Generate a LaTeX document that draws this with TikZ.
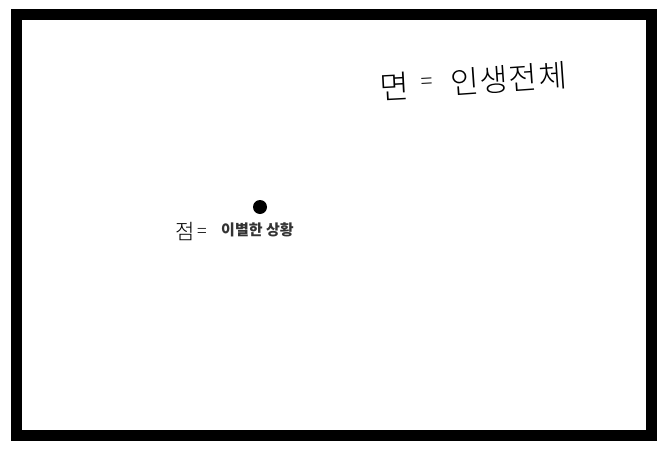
\documentclass[tikz,border=0pt]{standalone}
\usepackage{fontspec}
\newfontfamily\kr{Noto Sans CJK KR}
\newfontfamily\krlight{Noto Sans CJK KR Light}
\definecolor{txtgray}{HTML}{333333}
\begin{document}
\begin{tikzpicture}[x=1pt,y=-1pt,
  frame/.style={draw=black,line width=11pt},
  hand/.style={font=\krlight,inner sep=0pt,anchor=west},
  bold/.style={font=\kr\bfseries,inner sep=0pt,anchor=west,text=txtgray}]
\useasboundingbox (0,0) rectangle (667,453);
\fill[white] (0,0) rectangle (667,453);
\node[frame,minimum width=634.5pt,minimum height=421pt,inner sep=0pt] (fr) at (333.75,225) {};
\fill[black] (260,207) circle (7);
\coordinate (dot) at (260,207);
\node[hand,font=\krlight\fontsize{21}{21}\selectfont] (jeom) at (175,231) {점};
\node[hand,font=\krlight\fontsize{18}{18}\selectfont] (eq1) at (197,233) {=};
\node[bold,font=\kr\bfseries\fontsize{15}{15}\selectfont] (situ) at (221,230) {이별한 상황};
\node[hand,font=\krlight\fontsize{32}{32}\selectfont,rotate=3] (myeon) at (380,87) {면};
\node[hand,font=\krlight\fontsize{22}{22}\selectfont,rotate=3] (eq2) at (421,84) {=};
\node[hand,font=\krlight\fontsize{31}{31}\selectfont,rotate=4,text width=120pt] (life) at (450,83) {인\hspace{1pt}생\hspace{1pt}전\hspace{1pt}체};
\end{tikzpicture}
\end{document}
